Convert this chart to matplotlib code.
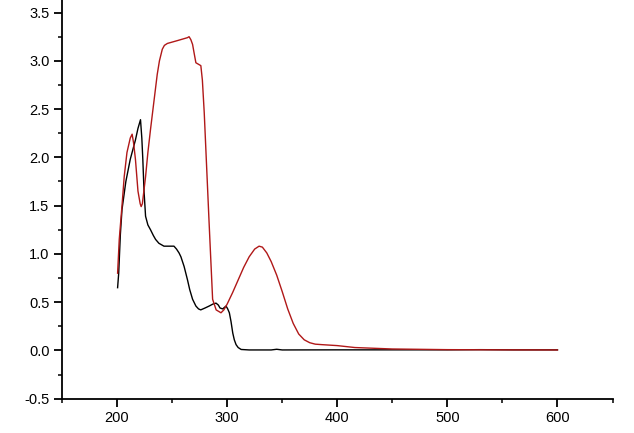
import matplotlib
matplotlib.use("Agg")
import matplotlib.pyplot as plt
from matplotlib.ticker import MultipleLocator

plt.rcParams['font.family'] = ['Liberation Sans', 'DejaVu Sans']

# Black spectrum (wavelength nm, absorbance)
black_x = [200.5, 201.5, 203, 204.5, 208, 212, 216.7, 219, 221.3, 222.5, 223.4, 224.5,
           225.9, 228, 230.4, 233, 235, 238, 242.6, 251.7, 254, 256.3, 258, 260.9,
           264, 266, 268.6, 271.6, 274, 276, 280, 283.7, 287, 289.9, 292, 293.5,
           295.9, 299, 300.5, 302, 303.5, 305.1, 306.5, 308.1, 310, 312.7, 320,
           340, 345, 350, 400, 450, 500, 530, 560, 600]
black_y = [0.65, 0.80, 1.20, 1.46, 1.75, 1.98, 2.18, 2.30, 2.39, 2.20, 1.98, 1.65,
           1.39, 1.30, 1.25, 1.19, 1.15, 1.11, 1.08, 1.08, 1.05, 1.01, 0.97, 0.87,
           0.73, 0.63, 0.53, 0.46, 0.43, 0.42, 0.44, 0.46, 0.48, 0.49, 0.47, 0.44,
           0.43, 0.46, 0.43, 0.39, 0.30, 0.18, 0.11, 0.06, 0.03, 0.01, 0.005,
           0.005, 0.012, 0.005, 0.006, 0.006, 0.006, 0.008, 0.006, 0.006]

# Red spectrum
red_x = [200.5, 202, 204.5, 206.5, 209, 212, 213.7, 215, 216.7, 219, 221, 221.9, 223,
         225.9, 228, 230.4, 233.5, 236.5, 238.5, 241.1, 243, 245.7, 255, 264, 265.4,
         267, 268.6, 270, 271.6, 276.1, 277.5, 279.2, 283.5, 286.8, 290, 294.4, 297,
         300, 305, 310, 315, 320, 325, 329, 332, 336, 340, 345, 350, 355, 360, 365,
         370, 375, 380, 386, 400, 416, 450, 500, 550, 600]
red_y = [0.80, 1.15, 1.50, 1.80, 2.05, 2.20, 2.24, 2.15, 1.98, 1.65, 1.52, 1.49, 1.52,
         1.80, 2.05, 2.29, 2.58, 2.86, 3.00, 3.12, 3.16, 3.18, 3.21, 3.24, 3.25,
         3.22, 3.17, 3.08, 2.98, 2.95, 2.80, 2.46, 1.35, 0.53, 0.42, 0.39, 0.42,
         0.48, 0.60, 0.73, 0.86, 0.97, 1.05, 1.08, 1.07, 1.01, 0.92, 0.78, 0.61, 0.43,
         0.28, 0.17, 0.11, 0.08, 0.065, 0.06, 0.05, 0.03, 0.015, 0.008, 0.006, 0.005]

x_ticks = [200, 300, 400, 500, 600]
y_ticks = [-0.5, 0.0, 0.5, 1.0, 1.5, 2.0, 2.5, 3.0, 3.5]

fig = plt.figure(figsize=(6.34, 4.33), dpi=100)
ax = fig.add_axes([62/634, (433-398.7)/433, (612.5-62)/634, 398.7/433])

ax.plot(black_x, black_y, color='black', lw=1.0)
ax.plot(red_x, red_y, color='#B01818', lw=1.0)

ax.set_xlim(150, 650)
ax.set_ylim(-0.5, 3.63)
ax.set_xticks(x_ticks)
ax.set_yticks(y_ticks)
ax.set_yticklabels([f"{v:.1f}" for v in y_ticks])
ax.xaxis.set_minor_locator(MultipleLocator(50))
ax.yaxis.set_minor_locator(MultipleLocator(0.25))

for s in ['top', 'right']:
    ax.spines[s].set_visible(False)
for s in ['left', 'bottom']:
    ax.spines[s].set_linewidth(1.3)

ax.tick_params(which='major', direction='out', length=5.5, width=1.3,
               labelsize=10.5, pad=3.5, colors='black')
ax.tick_params(which='minor', direction='out', length=3, width=1.1)

fig.savefig('out.png', dpi=100)
